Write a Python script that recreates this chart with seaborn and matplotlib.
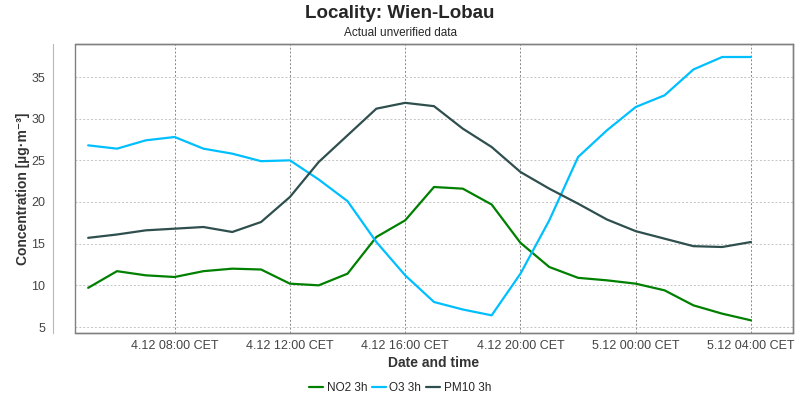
import numpy as np
import pandas as pd
import matplotlib
matplotlib.use("Agg")
import matplotlib.pyplot as plt
import matplotlib.dates as mdates
from matplotlib.ticker import FuncFormatter
from matplotlib.patches import Rectangle
import seaborn as sns

# Hourly values, 4.12 05:00 to 5.12 04:00
times = pd.date_range("2023-12-04 05:00", "2023-12-05 04:00", freq="h")
no2 = [9.7, 11.7, 11.2, 11.0, 11.7, 12.0, 11.9, 10.2, 10.0, 11.4, 15.8, 17.8,
       21.8, 21.6, 19.7, 15.1, 12.2, 10.9, 10.6, 10.2, 9.4, 7.6, 6.6, 5.8]
o3 = [26.8, 26.4, 27.4, 27.8, 26.4, 25.8, 24.9, 25.0, 22.7, 20.1, 15.2, 11.2,
      8.0, 7.1, 6.4, 11.4, 17.8, 25.4, 28.6, 31.4, 32.8, 35.9, 37.4, 37.4]
pm10 = [15.7, 16.1, 16.6, 16.8, 17.0, 16.4, 17.6, 20.6, 24.8, 28.0, 31.2, 31.9,
        31.5, 28.8, 26.6, 23.6, 21.6, 19.8, 17.9, 16.5, 15.6, 14.7, 14.6, 15.2]
series_names = ["NO2 3h", "O3 3h", "PM10 3h"]
colors = ["#008000", "#00bfff", "#2f4f4f"]

df = pd.DataFrame({
    "time": np.tile(times, 3),
    "value": no2 + o3 + pm10,
    "series": np.repeat(series_names, len(times)),
})

sns.set_style("white")
plt.rcParams["font.family"] = ["Liberation Sans", "DejaVu Sans"]

fig = plt.figure(figsize=(8, 4), dpi=100)
ax = fig.add_axes([0.094, 0.1675, 0.897, 0.7225])

sns.lineplot(data=df, x="time", y="value", hue="series", palette=colors,
             linewidth=1.6, ax=ax, legend=True)

ax.set_xlim(pd.Timestamp("2023-12-04 04:33"), pd.Timestamp("2023-12-05 05:27"))
ax.set_ylim(4.28, 38.96)
ax.set_yticks([5, 10, 15, 20, 25, 30, 35])

ax.xaxis.set_major_locator(mdates.HourLocator(byhour=[0, 4, 8, 12, 16, 20]))
ax.xaxis.set_major_formatter(FuncFormatter(
    lambda v, pos: (lambda d: f"{d.day}.{d.month} {d:%H:%M} CET")(mdates.num2date(v))))

# vertical grid darker than horizontal
ax.grid(True, axis="x", color="#888888", linestyle=(0, (2, 2)), linewidth=0.7)
ax.grid(True, axis="y", color="#c4c4c4", linestyle=(0, (2, 2)), linewidth=0.7)
ax.tick_params(axis="x", labelsize=9, colors="#444444", length=0, pad=5)
ax.tick_params(axis="y", labelsize=9, labelcolor="#444444", color="#b0b0b0",
               length=1.5, width=0.8, pad=4)

# box and separate y axis line
for s in ["top", "right", "bottom"]:
    ax.spines[s].set_color("#808080")
    ax.spines[s].set_linewidth(1)
ax.spines["left"].set_position(("outward", 16))
ax.spines["left"].set_color("#b8b8b8")
ax.add_patch(Rectangle((0, 0), 1, 1, transform=ax.transAxes, fill=False,
                       edgecolor="#808080", linewidth=1, clip_on=False, zorder=5))

ax.set_xlabel("Date and time", fontsize=10, fontweight="bold", color="#333333", labelpad=3)
ax.set_ylabel("Concentration [µg·m⁻³]", fontsize=10, fontweight="bold", color="#333333", labelpad=1)

fig.text(0.5, 0.965, "Locality: Wien-Lobau", ha="center", va="center",
         fontsize=13.5, fontweight="bold")
fig.text(0.5, 0.918, "Actual unverified data", ha="center", va="center", fontsize=8.5)

handles, labels = ax.get_legend_handles_labels()
ax.legend(handles, labels, loc="center", bbox_to_anchor=(0.5, 0.03),
          bbox_transform=fig.transFigure, ncol=3, frameon=False, fontsize=8.5,
          handlelength=1.2, handletextpad=0.3, columnspacing=0.4)

fig.savefig("out.png", dpi=100)
